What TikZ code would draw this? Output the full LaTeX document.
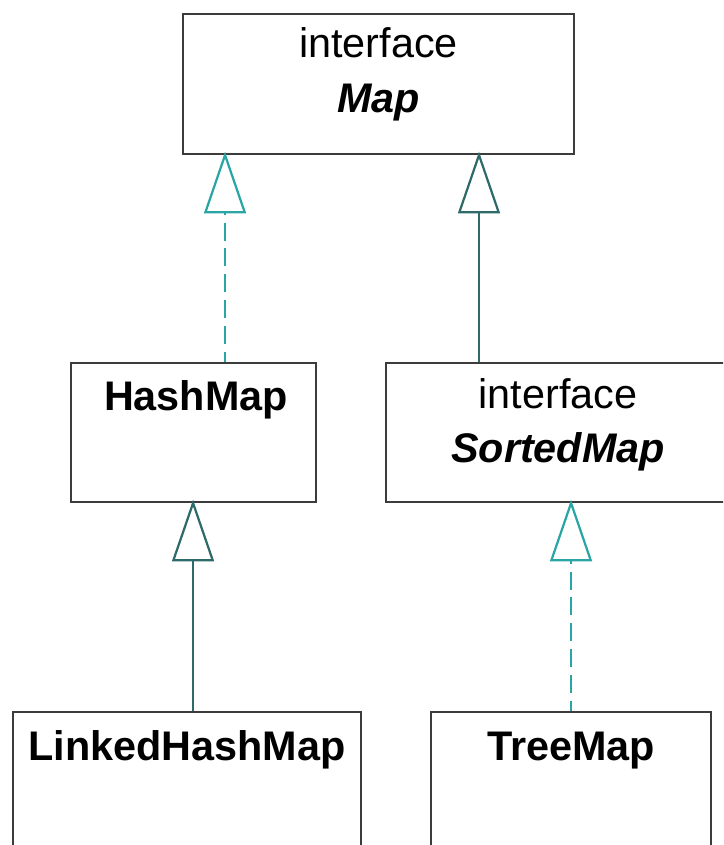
\documentclass[tikz,border=0pt]{standalone}
\usepackage{fontspec}
\setmainfont{Liberation Sans}
\usetikzlibrary{arrows.meta,calc}

\definecolor{boxline}{HTML}{3C3C3C}
\definecolor{tealdash}{HTML}{2AA5A5}
\definecolor{tealsolid}{HTML}{2E6A6A}

\begin{document}
\begin{tikzpicture}[
x=0.03cm, y=-0.03cm,
classbox/.style 2 args={rectangle, draw=boxline, line width=1.8pt, anchor=north west,
    inner sep=0pt, minimum width=#1, minimum height=#2},
txt/.style={font=\fontsize{35.3}{42}\selectfont, anchor=base, inner sep=0pt},
inherit/.style={line width=1.9pt, draw=tealsolid, shorten >=-3pt,
    -{Triangle[open, length=52.7pt, width=35.7pt, fill=white]}},
realize/.style={inherit, draw=tealdash, dash pattern=on 15.3pt off 6.8pt, dash phase=6.8pt},
]
\path[use as bounding box, clip] (0,0) rectangle (723,845);

% classes and interfaces
\node[classbox={11.73cm}{4.2cm}] (map) at (182,13) {};
\node[txt] (map-kind) at ($(map.north)+(0,45)$) {interface};
\node[txt] (map-name) at ($(map.north)+(0,100)$) {\textbf{\textit{Map}}};

\node[classbox={7.35cm}{4.17cm}] (hashmap) at (70,362) {};
\node[txt] (hashmap-name) at ($(hashmap.north)+(2.5,48)$) {\textbf{HashMap}};

\node[classbox={10.32cm}{4.17cm}] (sortedmap) at (385,362) {};
\node[txt] (sortedmap-kind) at ($(sortedmap.north)+(0,46)$) {interface};
\node[txt] (sortedmap-name) at ($(sortedmap.north)+(0,100)$) {\textbf{\textit{SortedMap}}};

\node[classbox={10.44cm}{5.1cm}] (linked) at (12,711) {};
\node[txt] (linked-name) at ($(linked.north)+(0,49)$) {\textbf{LinkedHashMap}};

\node[classbox={8.4cm}{5.1cm}] (treemap) at (430,711) {};
\node[txt] (treemap-name) at ($(treemap.north)+(0,49)$) {\textbf{TreeMap}};

% connectors
\coordinate (hashmap-up) at ($(hashmap.north)+(31.5,0)$);
\coordinate (sortedmap-up) at ($(sortedmap.north west)+(94,0)$);
\coordinate (linked-up) at ($(linked.north)+(6,0)$);

\draw[realize] (hashmap-up) -- (hashmap-up |- map.south);
\draw[inherit] (sortedmap-up) -- (sortedmap-up |- map.south);
\draw[inherit] (linked-up) -- (linked-up |- hashmap.south);
\draw[realize] (treemap.north) -- (treemap.north |- sortedmap.south);
\end{tikzpicture}
\end{document}
